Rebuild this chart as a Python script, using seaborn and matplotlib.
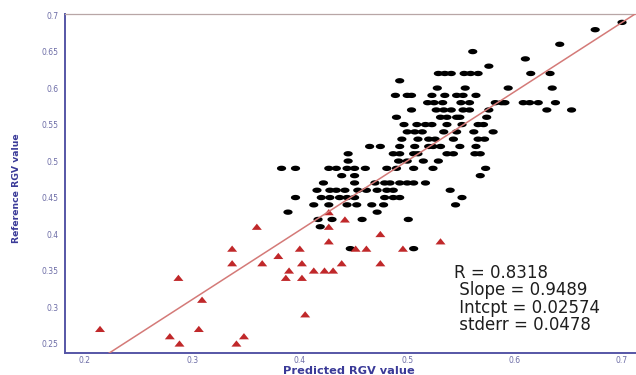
import numpy as np
import matplotlib
matplotlib.use("Agg")
import matplotlib.pyplot as plt
from matplotlib.markers import MarkerStyle
from matplotlib.path import Path
import seaborn as sns

# black points (Predicted, Reference)
black_x = [
    0.700,
    0.675,
    0.642,
    0.561,
    0.610,
    0.576,
    0.529, 0.535, 0.541, 0.553, 0.559, 0.566, 0.615, 0.633,
    0.493,
    0.528, 0.554, 0.594, 0.635,
    0.489, 0.500, 0.504, 0.523, 0.535, 0.546, 0.552, 0.564,
    0.519, 0.525, 0.533, 0.550, 0.558, 0.582, 0.588, 0.591, 0.608, 0.614, 0.622, 0.638,
    0.504, 0.527, 0.534, 0.541, 0.552, 0.558, 0.576, 0.630, 0.653,
    0.490, 0.531, 0.537, 0.546, 0.549, 0.574,
    0.497, 0.509, 0.517, 0.523, 0.537, 0.551, 0.566, 0.571,
    0.500, 0.507, 0.514, 0.534, 0.546, 0.562, 0.580,
    0.495, 0.510, 0.520, 0.526, 0.543, 0.566, 0.572,
    0.465, 0.475, 0.493, 0.507, 0.520, 0.524, 0.531, 0.549, 0.564,
    0.445, 0.487, 0.493, 0.506, 0.510, 0.537, 0.543, 0.563, 0.568,
    0.445, 0.492, 0.500, 0.515, 0.529,
    0.383, 0.396, 0.427, 0.434, 0.444, 0.451, 0.461, 0.481, 0.490, 0.506, 0.524, 0.573,
    0.439, 0.451, 0.568,
    0.422, 0.451, 0.470, 0.479, 0.484, 0.493, 0.500, 0.506, 0.517,
    0.416, 0.428, 0.434, 0.442, 0.454, 0.462, 0.472, 0.481, 0.487, 0.540,
    0.396, 0.420, 0.428, 0.437, 0.444, 0.451, 0.479, 0.487, 0.493, 0.551,
    0.413, 0.427, 0.444, 0.453, 0.467, 0.478, 0.545,
    0.389, 0.472,
    0.417, 0.430, 0.458, 0.501,
    0.419,
    0.447, 0.506,
]
black_y = (
    [0.69] + [0.68] + [0.66] + [0.65] + [0.64] + [0.63]
    + [0.62] * 8 + [0.61] + [0.60] * 4 + [0.59] * 8 + [0.58] * 12
    + [0.57] * 9 + [0.56] * 6 + [0.55] * 8 + [0.54] * 7 + [0.53] * 7
    + [0.52] * 9 + [0.51] * 9 + [0.50] * 5 + [0.49] * 12 + [0.48] * 3
    + [0.47] * 9 + [0.46] * 10 + [0.45] * 10 + [0.44] * 7 + [0.43] * 2
    + [0.42] * 4 + [0.41] + [0.38] * 2
)

# red triangles
red_x = [0.214, 0.279, 0.287, 0.288, 0.306, 0.309, 0.337, 0.337, 0.341, 0.348,
         0.360, 0.365, 0.380, 0.387, 0.390, 0.400, 0.402, 0.402, 0.405, 0.413,
         0.423, 0.431, 0.427, 0.427, 0.427, 0.439, 0.442, 0.452, 0.462, 0.475,
         0.475, 0.496, 0.531]
red_y = [0.27, 0.26, 0.34, 0.25, 0.27, 0.31, 0.38, 0.36, 0.25, 0.26,
         0.41, 0.36, 0.37, 0.34, 0.35, 0.38, 0.36, 0.34, 0.29, 0.35,
         0.35, 0.35, 0.39, 0.41, 0.43, 0.36, 0.42, 0.38, 0.38, 0.40,
         0.36, 0.38, 0.39]

# fit statistics shown on the chart
r_value = 0.8318
slope = 0.9489
intercept = 0.02574
stderr = 0.0478

x_ticks = [0.2, 0.3, 0.4, 0.5, 0.6, 0.7]
x_tick_labels = ["0.2", "0.3", "0.4", "0.5", "0.6", "0.7"]
y_ticks = [0.25, 0.3, 0.35, 0.4, 0.45, 0.5, 0.55, 0.6, 0.65, 0.7]
y_tick_labels = ["0.25", "0.3", "0.35", "0.4", "0.45", "0.5", "0.55", "0.6", "0.65", "0.7"]

AXIS_BLUE = "#5656a6"
LABEL_BLUE = "#3a3a98"
TICK_GREY = "#6c6ca6"

sns.set_style("white")
plt.rcParams["font.family"] = ["DejaVu Sans"]

fig = plt.figure(figsize=(6.36, 3.75), dpi=100)
ax = fig.add_axes([65 / 636, 22 / 375, 571 / 636, 339 / 375])

xlim = (0.1814, 0.713)
ax.set_xlim(*xlim)
ax.set_ylim(0.237, 0.7015)

# the source image is stretched sideways, so dots are flat ellipses
t = np.linspace(0, 2 * np.pi, 40)
ellipse = MarkerStyle(Path(np.column_stack([np.cos(t), 0.58 * np.sin(t)])))
triangle = MarkerStyle(Path([(-1, -0.62), (1, -0.62), (0, 0.62), (-1, -0.62)]))

sns.scatterplot(x=black_x, y=black_y, marker=ellipse, s=44, color="black",
                edgecolor="none", linewidth=0, ax=ax, zorder=2)
sns.scatterplot(x=red_x, y=red_y, marker=triangle, s=52, color="#c0282a",
                edgecolor="none", linewidth=0, ax=ax, zorder=2)

line_x = np.array(xlim)
sns.lineplot(x=line_x, y=slope * line_x + intercept, color="#d47a78",
             linewidth=1.1, ax=ax, zorder=3)

ax.set_xticks(x_ticks)
ax.set_xticklabels(x_tick_labels)
ax.set_yticks(y_ticks)
ax.set_yticklabels(y_tick_labels)
ax.tick_params(axis="both", direction="out", labelsize=5.5, labelcolor=TICK_GREY,
               color=AXIS_BLUE, width=0.8)
ax.tick_params(axis="y", length=3.5, pad=1)
ax.tick_params(axis="x", length=1.5, pad=1)

for side in ["left", "bottom"]:
    ax.spines[side].set_color(AXIS_BLUE)
    ax.spines[side].set_linewidth(1.4)
ax.spines["top"].set_color("#b8a6a6")
ax.spines["top"].set_linewidth(0.9)
ax.spines["right"].set_visible(False)

ax.set_xlabel("Predicted RGV value", fontsize=8.2, fontweight="bold", color=LABEL_BLUE)
ax.xaxis.set_label_coords((348.5 - 65) / 571, (353.3 - 371) / 339)
ax.xaxis.label.set_va("center")
ax.set_ylabel("Reference RGV value", fontsize=6.7, fontweight="bold", color=LABEL_BLUE)
ax.yaxis.set_label_coords((17 - 65) / 571, (353.3 - 188) / 339)
ax.yaxis.label.set_va("center")

stats = (f"R = {r_value}\n Slope = {slope}\n Intcpt = {intercept}\n stderr = {stderr}")
fig.text(454 / 636, 1 - 264 / 375, stats, fontsize=12, color="#1e1e1e",
         ha="left", va="top", linespacing=0.95)

fig.savefig("out.png", dpi=100)
